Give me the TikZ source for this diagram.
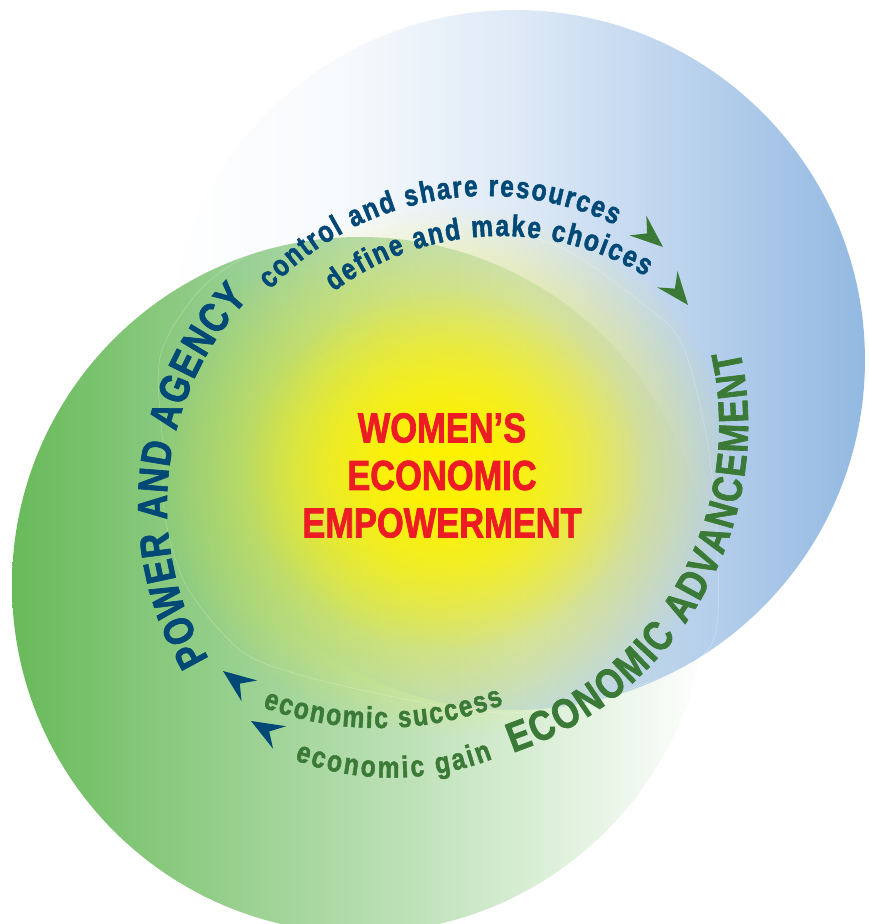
\documentclass[tikz,border=0pt]{standalone}
\usepackage{fontspec}
\newfontfamily\cfb{Liberation Sans Bold}[FakeStretch=0.82, FakeBold=1.6]
\usetikzlibrary{decorations.text,fadings}
\definecolor{bluec}{RGB}{146,184,226}
\definecolor{greenc}{RGB}{104,186,90}
\definecolor{yel}{RGB}{255,242,0}
\definecolor{tblue}{RGB}{0,72,118}
\definecolor{tgreen}{RGB}{58,122,54}
\definecolor{tred}{RGB}{237,28,36}
\tikzfading[name=glowfade, inner color=transparent!0, outer color=transparent!100]
\pgfdeclarehorizontalshading{bluesh}{100bp}{color(0bp)=(black); color(25bp)=(black); color(38bp)=(black!92!white); color(50bp)=(black!70!white); color(62bp)=(black!38!white); color(75bp)=(white); color(100bp)=(white)}
\begin{tikzfadingfrompicture}[name=bluefade]
\shade[shading=bluesh] (-25bp,-25bp) rectangle (25bp,25bp);
\end{tikzfadingfrompicture}
\newcommand\ringcapfont{\cfb\fontsize{42pt}{47.5pt}\selectfont}
\newcommand\ringlowfont{\cfb\fontsize{30pt}{30pt}\selectfont}
\tikzset{
  captext/.style 2 args={decorate, decoration={text along path, text align={fit to path}, text color=#2, text={|\ringcapfont|#1}}},
  lowtext/.style 2 args={decorate, decoration={text along path, text align={fit to path}, text color=#2, text={|\ringlowfont|#1}}},
  arrowshape/.style={fill=#1},
  faintline/.style={draw=white, opacity=0.3, line width=0.5pt},
}
\begin{document}
\begin{tikzpicture}[x=1pt,y=1pt]
\useasboundingbox (0,0) rectangle (869,924);
\clip (0,0) rectangle (869,924);
% circles
\shade[left color=greenc, right color=white] (360,339) circle (348);
\fill[bluec, path fading=bluefade, fit fading=true] (515,564) circle (350);
% yellow glow
\fill[yel, path fading=glowfade] (445,454) ellipse [x radius=290, y radius=265];
\fill[yel, path fading=glowfade] (445,454) ellipse [x radius=200, y radius=180];
% faint outline
\path[faintline] plot[smooth cycle] coordinates {(163,474) (160,567) (200,634) (260,674) (360,697) (460,701) (560,677) (647,617) (683,578) (707,484) (717,384) (710,277) (620,232) (510,211) (410,224) (300,249) (240,274) (187,337) (165,407)};
% centres of text arcs
\coordinate (cPA) at (470,419);
\coordinate (cCS) at (487,430);
\coordinate (cDM) at (501,409);
\coordinate (cEA) at (402,499);
\coordinate (cES) at (379,535);
\coordinate (cEG) at (392,426);
% ring texts
\path[captext={POWER AND AGENCY}{tblue}] ([shift={(210.5:303)}]cPA) arc[start angle=210.5, end angle=137, radius=303];
\path[lowtext={control and share resources}{tblue}] ([shift={(136.7:298)}]cCS) arc[start angle=136.7, end angle=64.5, radius=298];
\path[lowtext={define and make choices}{tblue}] ([shift={(126.8:279)}]cDM) arc[start angle=126.8, end angle=58.8, radius=279];
\path[captext={ECONOMIC ADVANCEMENT}{tgreen}] ([shift={(288.7:346)}]cEA) arc[start angle=288.7, end angle=372.5, radius=346];
\path[lowtext={economic success}{tgreen}] ([shift={(249.9:339)}]cES) arc[start angle=249.9, end angle=291.6, radius=339];
\path[lowtext={economic gain}{tgreen}] ([shift={(249.6:279.6)}]cEG) arc[start angle=249.6, end angle=291.1, radius=279.6];
% centre title
\node[font=\ringcapfont, text=tred, align=center, inner sep=0pt] (title) at (442,448.5) {WOMEN’S\\ECONOMIC\\EMPOWERMENT};
% arrowheads
\fill[arrowshape=tgreen, shift={(663,677)}, rotate=-40.5] (0,0) -- (-33,13) -- (-21,0) -- (-33,-13) -- cycle;
\fill[arrowshape=tgreen, shift={(688,619)}, rotate=-51.3] (0,0) -- (-33,13) -- (-21,0) -- (-33,-13) -- cycle;
\fill[arrowshape=tblue, shift={(223,253)}, rotate=143] (0,0) -- (-33,13) -- (-21,0) -- (-33,-13) -- cycle;
\fill[arrowshape=tblue, shift={(251,203)}, rotate=150] (0,0) -- (-33,13) -- (-21,0) -- (-33,-13) -- cycle;
\end{tikzpicture}
\end{document}
